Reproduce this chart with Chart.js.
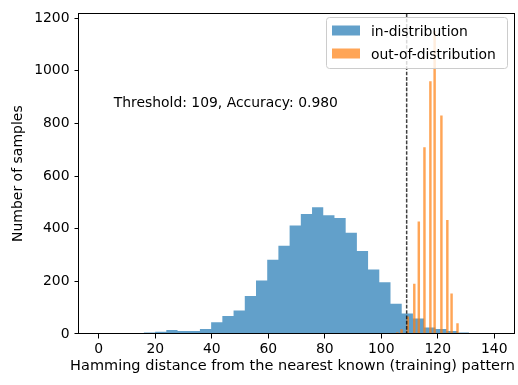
<!DOCTYPE html>
<html>
<head>
<meta charset="utf-8">
<script src="https://cdn.jsdelivr.net/npm/chart.js@4"></script>
<style>
  html, body { margin: 0; padding: 0; background: #fff; }
  #wrap { width: 518px; height: 385px; }
</style>
</head>
<body>
<div id="wrap"><canvas id="histCanvas" width="518" height="385"></canvas></div>
<script>
// in-distribution histogram: bin edges (33) and counts (32)
var inEdges = [12.00, 15.97, 19.94, 23.91, 27.88, 31.84, 35.81, 39.78, 43.75, 47.72, 51.69,
               55.66, 59.63, 63.59, 67.56, 71.53, 75.50, 79.47, 83.44, 87.41, 91.38, 95.34,
               99.31, 103.28, 107.25, 111.22, 115.19, 119.16, 123.13, 127.09, 131.06, 135.03, 139.00];
var inCounts = [3, 6, 9, 15, 11, 11, 19, 45, 68, 89, 144, 203,
                282, 335, 412, 456, 481, 451, 441, 385, 315, 245, 197, 115,
                78, 59, 25, 19, 11, 6, 0, 3];

// out-of-distribution histogram: narrow bins
var outBins = [105.7, 107.2, 109.4, 111.7, 113.3, 115.3, 117.4, 118.9, 121.3, 123.4, 124.9, 127.0, 130.2];
var outCounts = [5, 17, 65, 190, 426, 708, 959, 1150, 829, 432, 153, 40, 3];

var seriesNames = ['in-distribution', 'out-of-distribution'];
var xTicks = [0, 20, 40, 60, 80, 100, 120, 140];
var yTicks = [0, 200, 400, 600, 800, 1000, 1200];
var threshold = 109;
var accuracy = 0.980;

var xTitle = 'Hamming distance from the nearest known (training) pattern';
var yTitle = 'Number of samples';

var blue = 'rgba(31, 119, 180, 0.7)';
var orange = 'rgba(255, 127, 14, 0.7)';
var fontFam = '"DejaVu Sans", sans-serif';
var fontSize = 13.9;

Chart.defaults.font.family = fontFam;
Chart.defaults.font.size = fontSize;
Chart.defaults.color = '#000';

// step outline: one point per left edge, plus the closing right edge
var inStep = inEdges.map(function(e, i) {
  return {x: e, y: inCounts[Math.min(i, inCounts.length - 1)]};
});

var extras = {
  id: 'extras',
  afterDatasetsDraw: function(chart) {
    var ctx = chart.ctx;
    var area = chart.chartArea;
    var x = chart.scales.x;
    var y = chart.scales.y;

    // threshold line
    var tx = x.getPixelForValue(threshold);
    ctx.save();
    ctx.strokeStyle = 'rgba(0,0,0,0.75)';
    ctx.lineWidth = 1.5;
    ctx.setLineDash([3.7, 1.6]);
    ctx.beginPath();
    ctx.moveTo(tx, area.top);
    ctx.lineTo(tx, area.bottom);
    ctx.stroke();
    ctx.restore();

    // annotation
    ctx.save();
    ctx.fillStyle = '#000';
    ctx.font = fontSize + 'px ' + fontFam;
    ctx.textAlign = 'left';
    ctx.textBaseline = 'alphabetic';
    ctx.fillText('Threshold: ' + threshold + ', Accuracy: ' + accuracy.toFixed(3),
      x.getPixelForValue(5.3), y.getPixelForValue(862));
    ctx.restore();
  },
  afterDraw: function(chart) {
    var ctx = chart.ctx;
    var area = chart.chartArea;

    // frame
    ctx.save();
    ctx.strokeStyle = '#000';
    ctx.lineWidth = 1;
    ctx.strokeRect(Math.round(area.left) - 0.5, Math.round(area.top) + 0.5,
      Math.round(area.right - area.left) + 1, Math.round(area.bottom - area.top) - 1);
    ctx.restore();

    // legend
    var lx = 326, ly = 17, lw = 181, lh = 51;
    ctx.save();
    ctx.fillStyle = 'rgba(255,255,255,0.8)';
    ctx.strokeStyle = '#cccccc';
    ctx.lineWidth = 1;
    ctx.beginPath();
    ctx.roundRect(lx + 0.5, ly + 0.5, lw, lh, 3);
    ctx.fill();
    ctx.stroke();
    var colors = [blue, orange];
    ctx.font = fontSize + 'px ' + fontFam;
    ctx.textBaseline = 'alphabetic';
    for (var i = 0; i < seriesNames.length; i++) {
      var base = 35.5 + i * 23;
      ctx.fillStyle = colors[i];
      ctx.fillRect(lx + 6, base - 10, 28, 10);
      ctx.fillStyle = '#000';
      ctx.fillText(seriesNames[i], lx + 45, base);
    }
    ctx.restore();

    // axis titles
    ctx.save();
    ctx.fillStyle = '#000';
    ctx.font = '14.5px ' + fontFam;
    ctx.textAlign = 'center';
    ctx.textBaseline = 'alphabetic';
    ctx.fillText(xTitle, 292.5, 370);
    ctx.font = '14px ' + fontFam;
    ctx.translate(18, (area.top + area.bottom) / 2);
    ctx.rotate(-Math.PI / 2);
    ctx.textBaseline = 'middle';
    ctx.fillText(yTitle, 0, 0);
    ctx.restore();
  }
};

var plain = function(v) { return String(v); };

var ctx = document.getElementById('histCanvas');
var histChart = new Chart(ctx, {
  type: 'line',
  data: {
    datasets: [
      {
        type: 'line',
        label: seriesNames[0],
        data: inStep,
        stepped: 'before',
        fill: 'origin',
        backgroundColor: blue,
        borderColor: 'rgba(0,0,0,0)',
        borderWidth: 0,
        pointRadius: 0,
        order: 2
      },
      {
        type: 'bar',
        label: seriesNames[1],
        data: outBins.map(function(b, i) { return {x: b, y: outCounts[i]}; }),
        backgroundColor: orange,
        borderWidth: 0,
        barThickness: 1.8,
        grouped: false,
        order: 1
      }
    ]
  },
  plugins: [extras],
  options: {
    responsive: false,
    animation: false,
    devicePixelRatio: 1,
    layout: { padding: { top: 10, right: 4, left: 0, bottom: 0 } },
    plugins: { legend: { display: false }, tooltip: { enabled: false } },
    scales: {
      x: {
        type: 'linear',
        min: -7, max: 147,
        bounds: 'data',
        offset: false,
        grid: { offset: false, drawOnChartArea: false, drawTicks: true, tickLength: 4.5, color: '#000' },
        border: { display: false },
        ticks: { padding: 3, maxRotation: 0, color: '#000', callback: plain },
        afterBuildTicks: function(s) { s.ticks = xTicks.map(function(v) { return {value: v}; }); },
        afterFit: function(s) { s.height = 51; }
      },
      y: {
        min: 0, max: 1218,
        bounds: 'data',
        grid: { drawOnChartArea: false, drawTicks: true, tickLength: 4.5, color: '#000' },
        border: { display: false },
        ticks: { padding: 5, color: '#000', callback: plain },
        afterBuildTicks: function(s) { s.ticks = yTicks.map(function(v) { return {value: v}; }); },
        afterFit: function(s) { s.width = 79; }
      }
    }
  }
});
</script>
</body>
</html>
